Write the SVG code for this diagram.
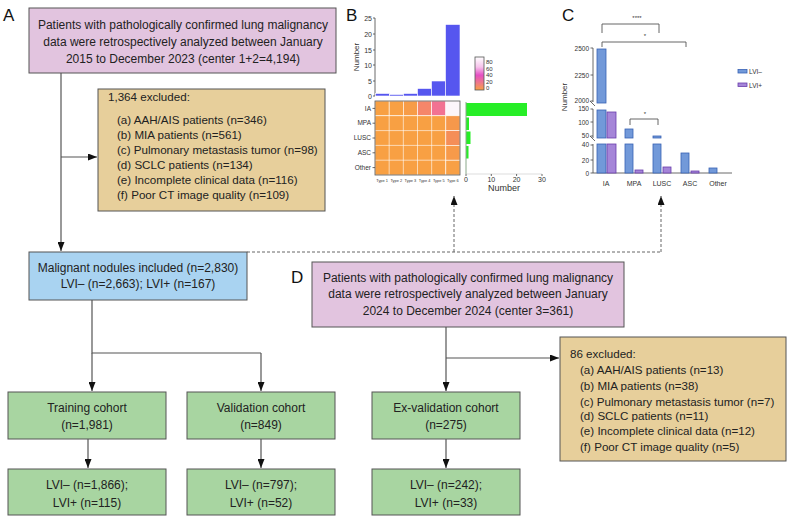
<svg xmlns="http://www.w3.org/2000/svg" width="788" height="518" viewBox="0 0 788 518">
<defs>
<style>
.t{font-family:"Liberation Sans",Arial,sans-serif;font-size:12px;fill:#222}
.e{font-size:11.6px}
.c{text-anchor:middle}
.r{text-anchor:end}
.lbl{font-family:"Liberation Sans",Arial,sans-serif;font-size:17px;fill:#111}
.ax{font-family:"Liberation Sans",Arial,sans-serif;font-size:7px;fill:#333}
.tiny{font-family:"Liberation Sans",Arial,sans-serif;font-size:3.9px;fill:#333;text-anchor:middle}
.box{stroke:#555;stroke-width:1}
.pink{fill:#e2c4df}.tan{fill:#e7cf9b}.blue{fill:#a9d3f1}.green{fill:#a8d5a1}
.ln{stroke:#555;stroke-width:1.2;fill:none}
.dash{stroke:#666;stroke-width:1;stroke-dasharray:3 2;fill:none}
.axl{stroke:#444;stroke-width:0.8;fill:none}
.bb{fill:#5656ef}
.gb{fill:#27ee27}
.neg{fill:#7299d9;stroke:#3862b5;stroke-width:0.8}
.pos{fill:#a585d8;stroke:#6a3eac;stroke-width:0.8}
.br{stroke:#555;stroke-width:0.9;fill:none}
</style>
<marker id="ah" markerUnits="userSpaceOnUse" markerWidth="9" markerHeight="7" refX="9" refY="3.5" orient="auto">
<path d="M0,0 L9,3.5 L0,7 z" fill="#111"/>
</marker>
<linearGradient id="grad" x1="0" y1="0" x2="0" y2="1">
<stop offset="0" stop-color="#ffffff"/>
<stop offset="0.3" stop-color="#f7c4ec"/>
<stop offset="0.55" stop-color="#e54fc4"/>
<stop offset="0.8" stop-color="#f07c84"/>
<stop offset="1" stop-color="#f9a043"/>
</linearGradient>
</defs>

<!-- panel labels -->
<text class="lbl" x="3" y="21">A</text>
<text class="lbl" x="346" y="21">B</text>
<text class="lbl" x="562" y="21">C</text>
<text class="lbl" x="291" y="283">D</text>

<!-- connectors -->
<g id="connectors">
<line class="ln" x1="61" y1="73" x2="61" y2="251" marker-end="url(#ah)"/>
<line class="ln" x1="61" y1="157" x2="97" y2="157" marker-end="url(#ah)"/>
<polyline class="ln" points="92,300 92,353 261,353"/>
<line class="ln" x1="92" y1="353" x2="92" y2="391" marker-end="url(#ah)"/>
<line class="ln" x1="261" y1="353" x2="261" y2="391" marker-end="url(#ah)"/>
<line class="ln" x1="88" y1="439" x2="88" y2="468" marker-end="url(#ah)"/>
<line class="ln" x1="261" y1="439" x2="261" y2="468" marker-end="url(#ah)"/>
<line class="ln" x1="446" y1="439" x2="446" y2="468" marker-end="url(#ah)"/>
<line class="ln" x1="446" y1="327" x2="446" y2="391" marker-end="url(#ah)"/>
<line class="ln" x1="446" y1="358" x2="559" y2="358" marker-end="url(#ah)"/>
<polyline class="dash" points="247,252 661,252"/>
<line class="dash" x1="454" y1="252" x2="454" y2="196" marker-end="url(#ah)"/>
<line class="dash" x1="661" y1="252" x2="661" y2="196" marker-end="url(#ah)"/>
</g>

<!-- flowchart nodes -->
<g id="nodeA">
<rect class="box pink" x="29" y="8" width="307" height="65"/>
<text class="t c" x="183" y="29">Patients with pathologically confirmed lung malignancy</text>
<text class="t c" x="183" y="46">data were retrospectively analyzed between January</text>
<text class="t c" x="183" y="63">2015 to December 2023 (center 1+2=4,194)</text>
</g>
<g id="excl1">
<rect class="box tan" x="98" y="89" width="227" height="122"/>
<text class="t e" x="108" y="101">1,364 excluded:</text>
<text class="t e" x="117" y="124">(a) AAH/AIS patients (n=346)</text>
<text class="t e" x="117" y="139">(b) MIA patients (n=561)</text>
<text class="t e" x="117" y="154">(c) Pulmonary metastasis tumor (n=98)</text>
<text class="t e" x="117" y="169">(d) SCLC patients (n=134)</text>
<text class="t e" x="117" y="184">(e) Incomplete clinical data (n=116)</text>
<text class="t e" x="117" y="199">(f) Poor CT image quality (n=109)</text>
</g>
<g id="malignant">
<rect class="box blue" x="29" y="252" width="218" height="48"/>
<text class="t c" x="138" y="272">Malignant nodules included (n=2,830)</text>
<text class="t c" x="138" y="288">LVI– (n=2,663); LVI+ (n=167)</text>
</g>
<g id="nodeD">
<rect class="box pink" x="312" y="262" width="312" height="65"/>
<text class="t c" x="468" y="282">Patients with pathologically confirmed lung malignancy</text>
<text class="t c" x="468" y="298">data were retrospectively analyzed between January</text>
<text class="t c" x="468" y="315">2024 to December 2024 (center 3=361)</text>
</g>
<g id="excl2">
<rect class="box tan" x="560" y="337" width="226" height="124"/>
<text class="t e" x="570" y="358">86 excluded:</text>
<text class="t e" x="580" y="374">(a) AAH/AIS patients (n=13)</text>
<text class="t e" x="580" y="390">(b) MIA patients (n=38)</text>
<text class="t e" x="580" y="406">(c) Pulmonary metastasis tumor (n=7)</text>
<text class="t e" x="580" y="420">(d) SCLC patients (n=11)</text>
<text class="t e" x="580" y="435">(e) Incomplete clinical data (n=12)</text>
<text class="t e" x="580" y="451">(f) Poor CT image quality (n=5)</text>
</g>
<g id="training">
<rect class="box green" x="8" y="392" width="158" height="47"/>
<text class="t c" x="87" y="412">Training cohort</text>
<text class="t c" x="87" y="429">(n=1,981)</text>
</g>
<g id="validation">
<rect class="box green" x="187" y="392" width="148" height="47"/>
<text class="t c" x="261" y="412">Validation cohort</text>
<text class="t c" x="261" y="429">(n=849)</text>
</g>
<g id="exvalidation">
<rect class="box green" x="372" y="392" width="148" height="47"/>
<text class="t c" x="446" y="412">Ex-validation cohort</text>
<text class="t c" x="446" y="429">(n=275)</text>
</g>
<g id="trainingLVI">
<rect class="box green" x="8" y="469" width="158" height="46"/>
<text class="t c" x="87" y="489">LVI– (n=1,866);</text>
<text class="t c" x="87" y="507">LVI+ (n=115)</text>
</g>
<g id="validationLVI">
<rect class="box green" x="187" y="469" width="148" height="46"/>
<text class="t c" x="261" y="489">LVI– (n=797);</text>
<text class="t c" x="261" y="507">LVI+ (n=52)</text>
</g>
<g id="exvalidationLVI">
<rect class="box green" x="372" y="469" width="148" height="46"/>
<text class="t c" x="446" y="489">LVI– (n=242);</text>
<text class="t c" x="446" y="507">LVI+ (n=33)</text>
</g>

<!-- Panel B -->
<g id="panelB">
<text class="ax c" transform="translate(359,57) rotate(-90)" style="font-size:8px">Number</text>
<line class="axl" x1="375" y1="18" x2="375" y2="96"/>
<g class="axl">
<line x1="373" y1="18" x2="375" y2="18"/><line x1="373" y1="34" x2="375" y2="34"/><line x1="373" y1="50" x2="375" y2="50"/>
<line x1="373" y1="65" x2="375" y2="65"/><line x1="373" y1="81" x2="375" y2="81"/><line x1="373" y1="96" x2="375" y2="96"/>
</g>
<text class="ax r" x="372" y="20.5">25</text>
<text class="ax r" x="372" y="36.5">20</text>
<text class="ax r" x="372" y="52.5">15</text>
<text class="ax r" x="372" y="67.5">10</text>
<text class="ax r" x="372" y="83.5">5</text>
<text class="ax r" x="372" y="98.5">0</text>
<g stroke="#fff" stroke-width="0.6">
<rect class="bb" x="375.5" y="93.5" width="14" height="2.5"/>
<rect class="bb" x="389.5" y="94.5" width="14" height="1.5"/>
<rect class="bb" x="403.5" y="93.5" width="14" height="2.5"/>
<rect class="bb" x="417.5" y="88.5" width="14" height="7.5"/>
<rect class="bb" x="431.5" y="81" width="14" height="15"/>
<rect class="bb" x="445.5" y="24.5" width="14.5" height="71.5"/>
</g>
<!-- heatmap -->
<g stroke="#fff" stroke-width="0.6">
<rect x="375" y="101" width="14.17" height="14.8" fill="#f8a043"/>
<rect x="389.17" y="101" width="14.17" height="14.8" fill="#f8a043"/>
<rect x="403.33" y="101" width="14.17" height="14.8" fill="#f79c47"/>
<rect x="417.5" y="101" width="14.17" height="14.8" fill="#f5866a"/>
<rect x="431.67" y="101" width="14.17" height="14.8" fill="#f27292"/>
<rect x="445.83" y="101" width="14.17" height="14.8" fill="#fcf5fa"/>
<rect x="375" y="115.8" width="70.83" height="59.2" fill="#f8a043"/>
<rect x="445.83" y="115.8" width="14.17" height="14.8" fill="#f6984b"/>
<rect x="445.83" y="130.6" width="14.17" height="14.8" fill="#f58e58"/>
<rect x="445.83" y="145.4" width="14.17" height="14.8" fill="#f79a4a"/>
<rect x="445.83" y="160.2" width="14.17" height="14.8" fill="#f8a045"/>
<line x1="389.17" y1="115.8" x2="389.17" y2="175"/><line x1="403.33" y1="115.8" x2="403.33" y2="175"/>
<line x1="417.5" y1="115.8" x2="417.5" y2="175"/><line x1="431.67" y1="115.8" x2="431.67" y2="175"/>
<line x1="375" y1="130.6" x2="445.83" y2="130.6"/><line x1="375" y1="145.4" x2="445.83" y2="145.4"/>
<line x1="375" y1="160.2" x2="445.83" y2="160.2"/>
</g>
<rect x="375" y="101" width="85" height="74" fill="none" stroke="#555" stroke-width="0.8"/>
<g class="axl">
<line x1="372.5" y1="108.4" x2="375" y2="108.4"/><line x1="372.5" y1="123.2" x2="375" y2="123.2"/>
<line x1="372.5" y1="138" x2="375" y2="138"/><line x1="372.5" y1="152.8" x2="375" y2="152.8"/>
<line x1="372.5" y1="167.6" x2="375" y2="167.6"/>
</g>
<text class="ax r" x="371" y="110.5" style="font-size:6.5px">IA</text>
<text class="ax r" x="371" y="125.3" style="font-size:6.5px">MPA</text>
<text class="ax r" x="371" y="140.1" style="font-size:6.5px">LUSC</text>
<text class="ax r" x="371" y="154.9" style="font-size:6.5px">ASC</text>
<text class="ax r" x="371" y="169.7" style="font-size:6.5px">Other</text>
<text class="tiny" x="382.1" y="182">Type 1</text>
<text class="tiny" x="396.3" y="182">Type 2</text>
<text class="tiny" x="410.4" y="182">Type 3</text>
<text class="tiny" x="424.6" y="182">Type 4</text>
<text class="tiny" x="438.8" y="182">Type 5</text>
<text class="tiny" x="452.9" y="182">Type 6</text>
<!-- color legend -->
<rect x="475" y="57" width="9" height="33" fill="url(#grad)" stroke="#555" stroke-width="0.8"/>
<text class="ax" x="486" y="64" style="font-size:6px">80</text>
<text class="ax" x="486" y="70.5" style="font-size:6px">60</text>
<text class="ax" x="486" y="77" style="font-size:6px">40</text>
<text class="ax" x="486" y="83.5" style="font-size:6px">20</text>
<text class="ax" x="486" y="90" style="font-size:6px">0</text>
<!-- green bars -->
<rect class="gb" x="466" y="103" width="61" height="13"/>
<rect class="gb" x="466" y="117.5" width="3" height="12.5"/>
<rect class="gb" x="466" y="131.5" width="4.5" height="12.5"/>
<rect class="gb" x="466" y="146" width="2.5" height="12.5"/>
<line x1="466" y1="102" x2="466" y2="174" stroke="#8aa88a" stroke-width="1"/>
<line x1="466" y1="174" x2="542" y2="174" stroke="#bbb" stroke-width="0.5"/>
<g class="axl"><line x1="466" y1="174" x2="466" y2="176"/><line x1="491.3" y1="174" x2="491.3" y2="176"/><line x1="516.6" y1="174" x2="516.6" y2="176"/><line x1="542" y1="174" x2="542" y2="176"/></g>
<text class="ax c" x="466" y="182">0</text>
<text class="ax c" x="491.3" y="182">10</text>
<text class="ax c" x="516.6" y="182">20</text>
<text class="ax c" x="542" y="182">30</text>
<text class="ax c" x="504" y="191" style="font-size:9px">Number</text>
</g>

<!-- Panel C -->
<g id="panelC">
<text class="ax c" transform="translate(567,97) rotate(-90)" style="font-size:8px">Number</text>
<g class="axl">
<line x1="593" y1="48" x2="593" y2="102"/>
<line x1="593" y1="109" x2="593" y2="138"/>
<line x1="593" y1="144" x2="593" y2="173"/>
<line x1="590.5" y1="48" x2="593" y2="48"/><line x1="590.5" y1="75" x2="593" y2="75"/><line x1="590.5" y1="101" x2="593" y2="101"/>
<line x1="590.5" y1="109" x2="593" y2="109"/><line x1="590.5" y1="122" x2="593" y2="122"/><line x1="590.5" y1="136" x2="593" y2="136"/>
<line x1="590.5" y1="145" x2="593" y2="145"/><line x1="590.5" y1="160" x2="593" y2="160"/><line x1="590.5" y1="173" x2="593" y2="173"/>
<line x1="590" y1="101" x2="595" y2="106"/>
<line x1="590" y1="136" x2="595" y2="141"/>
<line x1="593" y1="173" x2="732" y2="173"/>
</g>
<text class="ax r" x="589" y="50.5" style="font-size:6.5px">2500</text>
<text class="ax r" x="589" y="77.5" style="font-size:6.5px">2250</text>
<text class="ax r" x="589" y="102.5" style="font-size:6.5px">2000</text>
<text class="ax r" x="589" y="110.5" style="font-size:6.5px">150</text>
<text class="ax r" x="589" y="124.5" style="font-size:6.5px">100</text>
<text class="ax r" x="589" y="138" style="font-size:6.5px">50</text>
<text class="ax r" x="589" y="147" style="font-size:6.5px">40</text>
<text class="ax r" x="589" y="162.5" style="font-size:6.5px">20</text>
<text class="ax r" x="589" y="175.5" style="font-size:6.5px">0</text>
<rect class="neg" x="597" y="49" width="9" height="54"/>
<rect class="neg" x="597" y="110" width="9" height="28"/>
<rect class="neg" x="597" y="144" width="9" height="29"/>
<rect class="pos" x="607" y="112" width="9" height="26"/>
<rect class="pos" x="607" y="144" width="9" height="29"/>
<rect class="neg" x="625" y="129" width="8" height="9"/>
<rect class="neg" x="625" y="144" width="8" height="29"/>
<rect class="pos" x="635" y="170" width="8" height="3"/>
<rect class="neg" x="653" y="136" width="8" height="2"/>
<rect class="neg" x="653" y="144" width="8" height="29"/>
<rect class="pos" x="663" y="167" width="8" height="6"/>
<rect class="neg" x="681" y="153" width="8" height="20"/>
<rect class="pos" x="691" y="171" width="8" height="2"/>
<rect class="neg" x="709" y="168" width="8" height="5"/>
<text class="ax c" x="606" y="186">IA</text>
<text class="ax c" x="634" y="186">MPA</text>
<text class="ax c" x="662" y="186">LUSC</text>
<text class="ax c" x="690" y="186">ASC</text>
<text class="ax c" x="718" y="186">Other</text>
<polyline class="br" points="602,33 602,24 659,24 659,33"/>
<text class="ax c" x="637" y="20" style="font-size:6px">****</text>
<polyline class="br" points="602,47 602,42 686,42 686,47"/>
<text class="ax c" x="645" y="38" style="font-size:6px">*</text>
<polyline class="br" points="630,125 630,119 658,119 658,125"/>
<text class="ax c" x="645" y="116" style="font-size:6px">*</text>
<rect class="neg" x="738" y="69.5" width="9" height="3.5"/>
<text class="ax" x="749" y="74" style="font-size:6.5px">LVI–</text>
<rect class="pos" x="738" y="83" width="9" height="3.5"/>
<text class="ax" x="749" y="87.5" style="font-size:6.5px">LVI+</text>
</g>
</svg>
